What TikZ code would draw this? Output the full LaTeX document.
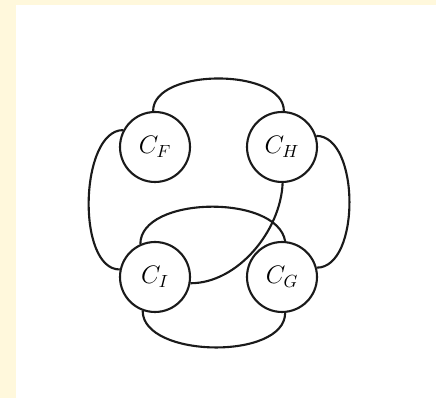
\documentclass[tikz,border=0pt]{standalone}
\usepackage{xcolor}
\usepackage{tikz}
\usetikzlibrary{positioning}
\definecolor{pageink}{HTML}{1A1A1A}
\definecolor{framecream}{HTML}{FFF8DC}

\begin{document}
\begin{tikzpicture}[x=0.02cm,y=0.02cm,
  comp/.style={circle,draw=pageink,line width=1.2pt,fill=white,
    minimum size=1.4cm,inner sep=0pt,font=\Large},
  link/.style={line width=1.2pt,pageink}
]
  % page and panel
  \fill[framecream] (0,0) rectangle (436,398);
  \fill[white] (16,0) rectangle (436,393);
  \useasboundingbox (0,0) rectangle (436,398);

  \node[comp] (cF) at (155,251) {$C_F$};
  \node[comp] (cH) at (282,251) {$C_H$};
  \node[comp] (cI) at (155,121) {$C_I$};
  \node[comp] (cG) at (282,121) {$C_G$};

  \draw[link] (cF.93) to[out=90,in=90,looseness=0.85] (cH.87);
  \draw[link] (cF.152) to[out=180,in=180,looseness=0.8] (cI.168);
  \draw[link] (cH.18) to[out=0,in=0,looseness=0.85] (cG.15);
  \draw[link] (cI.250) to[out=270,in=270,looseness=0.85] (cG.275);
  \draw[link] (cI.114) to[out=90,in=100,looseness=0.85] (cG.85);
  \draw[link] (cH.271) .. controls +(-2,-48) and +(47,0) .. (cI.350);
\end{tikzpicture}
\end{document}
